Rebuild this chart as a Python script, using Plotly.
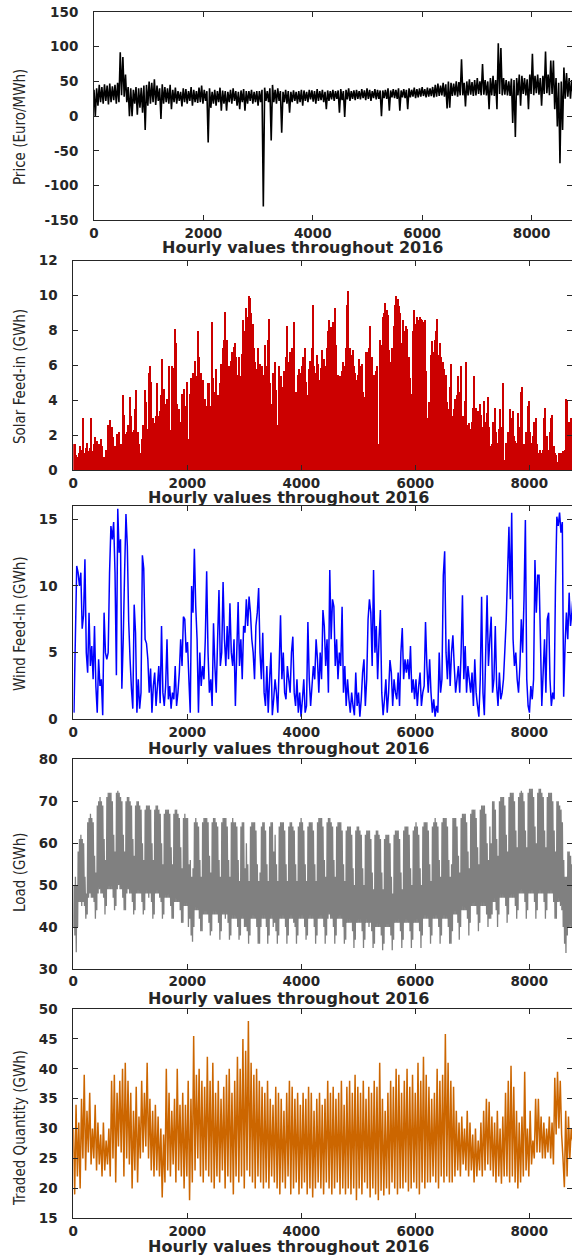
import plotly.graph_objects as go

# ---------------- data ----------------
N_HOURS = 8784
x_ticks = [0, 2000, 4000, 6000, 8000]

# Price: upper / lower values of the hourly band, one pair per 2 days
price_hi = [38, 40, 45, 42, 46, 44, 47, 43, 45, 48,
            92, 85, 60, 42, 40, 38, 42, 40, 41, 44,
            45, 50, 48, 53, 44, 40, 46, 42, 40, 45,
            38, 41, 36, 35, 40, 39, 36, 42, 38, 36,
            41, 44, 38, 36, 40, 35, 38, 36, 41, 37,
            36, 35, 38, 40, 36, 35, 37, 39, 36, 36,
            38, 35, 36, 36, 38, 41, 36, 40, 45, 38,
            40, 36, 35, 38, 36, 35, 37, 35, 36, 38,
            37, 35, 38, 37, 36, 39, 36, 38, 35, 37,
            36, 38, 36, 37, 39, 36, 38, 40, 36, 37,
            38, 36, 39, 37, 40, 38, 36, 39, 38, 37,
            37, 38, 40, 37, 39, 38, 40, 37, 39, 38,
            40, 38, 41, 39, 40, 42, 39, 41, 40, 42,
            45, 47, 44, 48, 46, 50, 48, 47, 50, 49,
            82, 48, 50, 53, 49, 52, 55, 50, 75, 52,
            50, 55, 58, 52, 105, 98, 55, 52, 50, 54,
            52, 55, 60, 58, 55, 53, 60, 90, 58, 60,
            55, 58, 93, 60, 80, 80, 55, 48, 50, 70,
            62, 55, 52]
price_lo = [0, 15, 20, 18, 22, 17, 20, 23, 18, 20,
            30, 28, 20, 0, 0, 18, 2, 12, 5, -20,
            15, 18, 20, 16, 22, -4, 18, 20, 18, 10,
            20, 18, 22, 14, 20, 18, 22, 15, 20, 19,
            20, 18, 22, -38, 12, 18, 15, 20, 8, 18,
            8, 20, 18, 22, 15, 10, 20, 8, 18, 22,
            18, 20, 15, 20, -130, 22, 20, -35, 20, 18,
            22, -24, 20, 18, 5, 20, 22, 18, 20, 15,
            22, 20, 24, 21, 18, 22, 23, 20, 10, 22,
            24, 22, 25, 5, 23, -1, 24, 22, 25, 23,
            25, 24, 26, 23, 25, 22, 26, 24, 25, 0,
            26, 25, 8, 27, 26, 25, 8, 27, 26, 10,
            27, 28, 26, 27, 28, 29, 27, 28, 29, 27,
            28, 29, 30, 28, 11, 12, 29, 30, 28, 30,
            30, 14, 30, 31, 29, 30, 32, 30, 31, 30,
            10, 30, 29, 10, 32, 30, 31, 30, 29, -10,
            -30, 30, 15, 32, 30, 10, 32, 30, 33, 31,
            15, 32, 33, 30, 32, 10, -15, -68, -20, 25,
            28, 25, 30]

# Solar: daily peak feed-in (GWh)
solar_peak = [1.5, 1.5, 0.9, 0.8, 1.0, 1.4, 1.2, 3.0, 1.0, 1.3,
              1.6, 1.1, 1.3, 3.0, 1.1, 1.5, 1.9, 1.7, 1.3, 1.5,
              1.8, 1.4, 0.8, 0.8, 1.2, 2.6, 1.8, 2.9, 2.5, 1.9,
              1.4, 1.0, 2.1, 2.2, 1.0, 1.5, 4.3, 3.2, 2.1, 2.2,
              2.6, 4.2, 3.1, 2.2, 2.3, 3.5, 4.6, 2.2, 1.5, 1.0,
              1.8, 2.6, 4.6, 3.9, 2.4, 5.6, 6.0, 5.1, 3.0, 2.7,
              3.1, 5.0, 3.1, 3.4, 4.3, 6.4, 4.7, 3.8, 4.1, 3.2,
              6.0, 2.3, 6.0, 5.9, 8.1, 7.3, 3.8, 3.5, 2.8, 4.4,
              4.2, 4.7, 3.7, 5.1, 1.8, 4.4, 5.3, 5.6, 3.5, 6.3,
              5.4, 8.0, 6.5, 5.6, 4.0, 5.2, 4.1, 3.7, 5.0, 5.0,
              3.7, 8.5, 5.3, 4.5, 5.8, 2.8, 4.3, 5.0, 6.1, 7.0,
              7.5, 9.1, 7.5, 5.6, 6.0, 6.3, 6.8, 7.1, 7.3, 6.5,
              5.5, 6.5, 5.4, 6.7, 8.6, 8.0, 9.3, 8.8, 10.0, 9.9,
              9.0, 8.4, 7.0, 6.2, 5.8, 7.0, 6.1, 5.4, 6.0, 5.5,
              7.2, 6.0, 7.5, 8.7, 5.0, 3.8, 5.6, 6.2, 4.6, 2.6,
              6.0, 5.2, 5.4, 4.8, 5.7, 6.5, 8.3, 6.2, 6.8, 6.0,
              7.0, 8.5, 4.0, 4.5, 5.5, 5.8, 5.6, 6.0, 6.5, 7.0,
              5.1, 4.3, 5.8, 6.3, 7.0, 9.5, 6.0, 5.6, 6.6, 6.1,
              5.2, 5.9, 6.9, 6.4, 6.0, 7.0, 8.0, 8.6, 8.2, 7.5,
              8.5, 9.3, 7.2, 5.5, 5.0, 5.4, 5.7, 6.2, 6.0, 7.0,
              9.5, 10.3, 7.0, 6.6, 6.9, 6.0, 5.6, 5.2, 5.5, 6.4,
              6.0, 6.1, 4.5, 4.2, 6.8, 6.8, 7.0, 8.3, 6.5, 4.7,
              5.5, 5.7, 6.0, 1.5, 7.5, 7.2, 8.8, 9.0, 9.6, 9.2,
              8.9, 6.9, 6.2, 7.0, 8.3, 9.5, 10.0, 9.8, 9.4, 9.0,
              7.3, 8.6, 8.0, 8.3, 8.1, 6.5, 5.3, 4.4, 8.0, 9.2,
              8.4, 8.8, 8.6, 8.8, 8.7, 8.6, 8.5, 8.6, 5.7, 3.0,
              3.9, 6.6, 7.4, 6.8, 7.5, 8.0, 8.7, 6.6, 7.3, 6.5,
              6.2, 5.8, 5.5, 3.9, 3.5, 4.8, 6.1, 3.1, 3.5, 4.1,
              4.3, 5.4, 4.5, 6.0, 2.9, 3.1, 4.0, 6.2, 2.6, 2.7,
              2.4, 2.8, 3.6, 5.4, 3.6, 2.6, 3.4, 3.8, 3.2, 2.5,
              4.0, 2.8, 3.3, 4.2, 2.5, 1.4, 1.5, 2.8, 3.6, 2.2,
              1.6, 2.4, 3.5, 2.5, 5.0, 0.6, 1.6, 1.5, 2.2, 3.5,
              3.0, 3.4, 2.0, 1.7, 1.6, 3.3, 2.5, 4.5, 4.8, 1.5,
              1.0, 2.2, 3.7, 4.0, 2.2, 1.6, 2.0, 2.8, 3.0, 1.5,
              1.0, 1.2, 1.0, 1.2, 3.0, 3.6, 2.0, 1.2, 2.2, 3.0,
              3.2, 1.4, 1.0, 0.9, 0.5, 1.0, 1.0, 1.0, 1.1, 1.2,
              4.1, 4.0, 2.8, 2.0, 3.0, 2.5]

# Wind: daily value (GWh)
wind = [0.5, 6, 11.5, 11, 10, 11, 6.8, 7.8, 12, 5,
        3.5, 8, 4, 5.5, 3, 7, 2.5, 0.5, 4.5, 2.5,
        3, 0.3, 8, 5, 4.5, 5, 11, 14.5, 13.5, 14.8,
        11, 3.3, 15.8, 12.5, 13.5, 2.3, 6, 11, 15.4, 13,
        7.3, 4.5, 2.3, 0.8, 8.6, 6.5, 0.5, 3, 0.8, 2,
        12.3, 11.3, 6, 5.7, 4.5, 2, 3.8, 0.5, 2.5, 3.5,
        1, 2.5, 4, 1.2, 7, 2, 1, 2.5, 6, 1.5,
        2.5, 0.8, 2, 1.5, 4, 1, 2, 3.5, 6, 4,
        7.7, 7.5, 5, 5.8, 3, 0.5, 10, 8, 12.8, 8.5,
        6, 0.5, 5, 2.5, 4, 3, 6, 11.1, 5, 2,
        3, 1, 7.2, 4, 2, 6, 9.7, 4, 5, 10.3,
        6, 4, 7, 4.5, 8.7, 5, 4, 6, 1, 5,
        8.8, 4, 6, 3, 7, 6.5, 9, 7, 9.2, 8,
        6, 5, 3, 7, 8, 9.85, 5, 3, 6.5, 2,
        1, 4, 0.5, 3, 5, 0.3, 1.5, 3, 2, 0.5,
        4, 7.8, 3, 5, 2, 1.5, 4, 3, 2, 5,
        6.2, 2, 1, 3, 0.5, 2, 0.2, 1.5, 3, 0.5,
        1, 7.3, 3, 1, 2.5, 4, 3, 6, 4.5, 2,
        5, 3, 8.2, 7, 4, 6, 2, 11.2, 6, 9,
        8.45, 4, 6, 3, 5, 4, 8.45, 2, 4, 1,
        3, 1.5, 0.5, 2, 1, 0.3, 3.5, 1, 2, 0.2,
        1.5, 3.5, 4.5, 1, 3, 7.5, 9, 8, 4, 11.2,
        5, 7, 3, 6, 8.2, 2, 0.3, 1.5, 3, 0.5,
        2, 4.45, 3.5, 1, 3, 2, 1.5, 3.5, 1, 5,
        6.85, 3, 4.5, 3.5, 4.5, 3, 5.5, 2, 3, 1.5,
        3, 1, 2.5, 3.5, 1, 2, 2.5, 7.3, 4, 2,
        4.5, 2, 0.5, 1.5, 0.2, 1, 0.5, 5, 2, 3,
        10.8, 12.6, 5, 3, 6, 2.5, 5, 6.3, 4, 2,
        3, 4, 2, 5, 9.3, 3, 5.5, 2, 4, 3,
        2, 3.5, 1, 4.5, 2, 1, 0.2, 3, 9.2, 2,
        0.3, 5, 9.3, 4, 6, 7.7, 2, 3, 7, 2.5,
        1, 3.5, 1.5, 2, 3, 5.2, 7.5, 11.1, 14.45, 9,
        15.5, 6, 4, 5, 3, 2, 4, 7.5, 5, 9,
        14.95, 3, 1, 0.5, 2.5, 1.5, 3, 11.95, 8, 10.8,
        10.8, 6, 1, 3.5, 6, 2, 7.5, 8, 3, 1,
        2, 1.5, 9.95, 15.2, 14.5, 15.5, 14, 14.8, 1.7, 5.5,
        8, 6, 9.5, 7, 8, 9.5]

# Load: daily peak and night trough (GWh); rows are weeks Mon..Sun
load_peak = [50, 52, 50,
             58, 61, 62, 61, 60, 52, 48,
             65, 66, 67, 66, 65, 57, 53,
             69, 70, 71, 70, 69, 61, 56,
             71, 72, 72, 72, 70, 62, 58,
             72, 72.5, 72, 71, 70, 62, 58,
             70, 71, 71, 70, 69, 61, 57,
             69, 70, 70, 69, 68, 60, 56,
             68, 69, 69, 69, 68, 60, 56,
             68, 69, 69, 68, 67, 60, 55,
             67, 68, 68, 68, 67, 59, 55,
             67, 68, 68, 67, 66, 59, 54,
             66, 67, 66, 66, 55, 56, 52,
             54, 65, 66, 65, 64, 56, 52,
             65, 66, 66, 66, 65, 57, 53,
             65, 66, 66, 65, 64, 56, 52,
             65, 66, 66, 66, 64, 56, 52,
             65, 66, 65, 65, 64, 56, 51,
             64, 65, 65, 54, 60, 55, 51,
             64, 65, 65, 65, 63, 55, 51,
             53, 64, 65, 65, 63, 55, 51,
             64, 65, 65, 58, 62, 55, 51,
             64, 65, 65, 65, 63, 55, 51,
             64, 65, 65, 64, 63, 55, 51,
             64, 65, 66, 65, 63, 55, 51,
             64, 65, 65, 65, 63, 55, 51,
             65, 66, 66, 66, 64, 56, 52,
             65, 66, 66, 65, 64, 56, 52,
             64, 65, 65, 65, 63, 55, 51,
             63, 64, 64, 64, 62, 54, 50,
             63, 64, 64, 63, 62, 54, 50,
             62, 63, 63, 63, 61, 53, 49,
             62, 63, 63, 62, 61, 53, 49,
             61, 62, 62, 62, 60, 52, 48,
             62, 63, 63, 63, 61, 53, 49,
             63, 64, 64, 64, 62, 54, 50,
             63, 64, 65, 64, 62, 54, 50,
             64, 65, 65, 65, 63, 55, 51,
             64, 65, 66, 65, 64, 56, 52,
             65, 66, 66, 66, 64, 56, 52,
             55, 66, 66, 66, 64, 57, 53,
             66, 67, 67, 67, 65, 58, 54,
             67, 68, 68, 68, 66, 59, 55,
             68, 69, 69, 69, 67, 60, 56,
             64, 60, 70, 70, 68, 61, 57,
             70, 71, 71, 71, 69, 62, 58,
             71, 72, 72, 72, 70, 63, 59,
             71, 72, 72.5, 72, 70, 63, 59,
             72, 73, 73, 73, 71, 64, 60,
             72, 73, 73, 72, 71, 63, 59,
             71, 72, 72, 72, 70, 63, 58,
             70, 70, 69, 68, 65, 56, 52,
             52, 58, 58, 57, 55, 50]
load_trough = [40, 38, 34,
               40, 46, 46, 45, 46, 45, 42,
               43, 47, 48, 47, 47, 46, 42,
               44, 48, 49, 48, 48, 47, 43,
               45, 49, 49, 49, 49, 47, 44,
               45, 49, 50, 49, 49, 47, 44,
               44, 48, 49, 48, 48, 46, 43,
               44, 48, 48, 48, 48, 46, 43,
               44, 48, 48, 47, 48, 46, 42,
               43, 48, 48, 48, 47, 46, 42,
               43, 47, 47, 47, 47, 45, 42,
               42, 46, 46, 46, 46, 44, 41,
               41, 45, 45, 45, 40, 42, 38,
               36.5, 40, 44, 44, 44, 42, 39,
               39, 43, 43, 43, 43, 41, 38,
               39, 43, 43, 43, 43, 41, 37,
               39, 43, 43, 42, 43, 41, 37,
               38, 42, 42, 42, 42, 40, 37,
               38, 42, 42, 40, 40, 39, 36,
               38, 42, 42, 42, 42, 40, 36,
               36, 40, 42, 42, 42, 40, 36,
               38, 42, 42, 40, 41, 39, 36,
               38, 42, 42, 42, 42, 40, 36,
               38, 42, 42, 42, 41, 40, 36,
               38, 42, 42, 42, 42, 40, 37,
               38, 42, 42, 42, 42, 40, 36,
               38, 42, 42, 42, 42, 40, 36,
               38, 42, 43, 42, 42, 40, 36,
               38, 42, 42, 42, 42, 40, 36,
               37, 41, 41, 41, 41, 39, 35,
               37, 41, 41, 41, 41, 39, 35,
               37, 41, 41, 40, 41, 39, 35,
               36, 40, 40, 40, 40, 38, 34.5,
               36, 40, 40, 40, 40, 38, 34.5,
               37, 41, 41, 41, 41, 39, 35,
               37, 41, 41, 41, 41, 39, 35,
               37, 41, 41, 41, 41, 39, 35,
               38, 42, 42, 42, 42, 40, 36,
               38, 42, 42, 42, 42, 40, 36,
               38, 42, 42, 42, 42, 40, 36,
               36, 39, 43, 43, 43, 41, 37,
               40, 44, 44, 44, 44, 42, 38,
               41, 45, 45, 45, 45, 43, 39,
               41, 45, 45, 45, 45, 43, 40,
               42, 42, 43, 46, 46, 44, 40,
               43, 47, 47, 47, 47, 45, 41,
               43, 47, 47, 47, 47, 45, 42,
               44, 48, 48, 48, 48, 46, 42,
               44, 48, 48, 48, 48, 46, 42,
               44, 48, 48, 48, 48, 46, 42,
               44, 48, 48, 48, 48, 46, 42,
               42, 46, 46, 45, 44, 40, 36,
               33.8, 38, 40, 40, 40, 38]

# Traded quantity: upper / lower values of the band, one pair per 2 days
traded_hi = [30, 34, 31, 35, 39, 33, 36, 30, 34, 31,
             29, 31, 28, 30, 38, 39, 36, 38, 40, 41,
             38, 36, 33, 37, 32, 38, 36, 41, 35, 33,
             34, 32, 30, 29, 40, 36, 33, 35, 40, 34,
             36, 34, 38, 35, 45.5, 39, 40, 38, 37, 42,
             38, 41, 36, 38, 35, 37, 39, 40, 36, 38,
             42, 40, 45, 43, 48, 41, 39, 40, 38, 37,
             36, 38, 35, 34, 37, 36, 35, 33, 36, 38,
             37, 35, 36, 34, 36, 35, 37, 36, 33, 35,
             36, 34, 35, 38, 36, 37, 35, 36, 38, 34,
             37, 38, 36, 39, 37, 36, 38, 35, 37, 36,
             38, 37, 41, 35, 33, 36, 38, 37, 40, 39,
             36, 38, 40, 37, 39, 36, 41, 38, 42, 39,
             37, 35, 36, 40, 38, 39, 45.8, 41, 38, 37,
             33, 31, 32, 30, 33, 31, 29, 30, 28, 31,
             33, 35, 34.5, 32, 31, 33, 30, 32, 36, 38,
             40.5, 37, 33, 31, 32, 39.5, 30, 33, 28, 35,
             35, 32, 31, 30, 32, 31, 38.5, 39.5, 38, 25,
             33, 32, 30]
traded_lo = [19, 22, 20, 25, 23, 26, 24, 25, 23, 24,
             22, 23, 24, 22, 25, 21, 27, 26, 22, 25,
             24, 20, 23, 21, 25, 26, 27, 25, 23, 22,
             23, 22, 18.5, 21, 23, 22, 24, 21, 23, 22,
             20, 22, 18, 21, 23, 25, 22, 21, 23, 22,
             21, 20, 22, 21, 23, 20, 22, 21, 19, 22,
             21, 22, 20, 23, 22, 21, 20, 22, 21, 20,
             21, 20, 22, 21, 20, 19, 21, 20, 22, 19,
             20, 21, 19, 20, 21, 19, 20, 18.5, 20, 21,
             20, 19, 21, 20, 19, 20, 21, 19, 20, 19,
             20, 19, 20, 18, 20, 19, 21, 20, 18.5, 20,
             19, 18, 19.6, 18.8, 20, 19, 21, 20, 19, 20,
             20, 21, 19.5, 20, 21, 20, 19, 21, 20, 21,
             21, 22, 21, 20, 22, 21, 22, 21, 21, 22,
             23, 22, 24, 23, 22, 23, 21, 22, 23, 22,
             23, 24, 23, 22, 21, 22, 20.8, 22, 22, 21,
             22, 21, 20, 21, 22, 23, 22, 24, 25, 26,
             26, 25, 25, 26, 25, 24, 29, 30, 29, 20.2,
             22, 25, 28]

# ---------------- build plotted sequences ----------------
def band(hi, lo, step):
    xs, ys = [], []
    for i, (h, l) in enumerate(zip(hi, lo)):
        xs += [i * step, i * step + step / 2]
        ys += [h, l]
    return xs, ys

price_x, price_y = band(price_hi, price_lo, 48)
traded_x, traded_y = band(traded_hi, traded_lo, 48)
load_x, load_y = [], []
for d, (lo, hi) in enumerate(zip(load_trough, load_peak)):
    load_x += [24 * d + 4, 24 * d + 13]
    load_y += [lo, hi]
day_mid = [24 * d + 12 for d in range(len(wind))]

# ---------------- layout geometry (pixels) ----------------
W, H = 572, 1256
panels = [
    dict(left=94, top=12, bottom=220.3, xmax=8740, yr=[-150, 150],
         yt=[-150, -100, -50, 0, 50, 100, 150],
         ytitle="Price (Euro/MWh)", ty=127, xt_y=248, xt_x=302),
    dict(left=73.3, top=260.7, bottom=470.3, xmax=8750, yr=[0, 12], yt=[0, 2, 4, 6, 8, 10, 12],
         ytitle="Solar Feed-in (GWh)", ty=377, xt_y=498, xt_x=288.5),
    dict(left=73.3, top=506, bottom=719.3, xmax=8750, yr=[0, 16], yt=[0, 5, 10, 15],
         ytitle="Wind Feed-in (GWh)", ty=624, xt_y=748, xt_x=288.5),
    dict(left=73.3, top=759.3, bottom=969, xmax=8750, yr=[30, 80], yt=[30, 40, 50, 60, 70, 80],
         ytitle="Load (GWh)", ty=872, xt_y=998, xt_x=288.5),
    dict(left=73.3, top=1009, bottom=1218.3, xmax=8750, yr=[15, 50],
         yt=[15, 20, 25, 30, 35, 40, 45, 50],
         ytitle="Traded Quantity (GWh)", ty=1128, xt_y=1246, xt_x=288.5),
]

fig = go.Figure()
common = dict(mode="lines", showlegend=False, hoverinfo="skip")
fig.add_trace(go.Scatter(x=price_x, y=price_y, line=dict(color="black", width=1.6, simplify=False),
                         xaxis="x", yaxis="y", **common))
fig.add_trace(go.Bar(x=day_mid, y=solar_peak, width=24, marker=dict(color="#CC0000", line=dict(width=0)),
                     xaxis="x2", yaxis="y2", showlegend=False, hoverinfo="skip"))
fig.add_trace(go.Scatter(x=day_mid, y=wind, line=dict(color="#0000FF", width=1.5, simplify=False),
                         xaxis="x3", yaxis="y3", **common))
fig.add_trace(go.Scatter(x=load_x, y=load_y, line=dict(color="#808080", width=1.3, simplify=False),
                         xaxis="x4", yaxis="y4", **common))
fig.add_trace(go.Scatter(x=traded_x, y=traded_y, line=dict(color="#CC6600", width=1.5, simplify=False),
                         xaxis="x5", yaxis="y5", **common))

axis_col = "#262626"
tickfont = dict(family="DejaVu Sans, Liberation Sans, sans-serif", size=13.5, color=axis_col)
ax_common = dict(showgrid=False, zeroline=False, showline=True, linecolor=axis_col, linewidth=1,
                 mirror="ticks", ticks="inside", ticklen=5, tickwidth=1, tickcolor=axis_col,
                 tickfont=tickfont, automargin=False)
layout = dict(width=W, height=H, margin=dict(l=0, r=0, t=0, b=0, autoexpand=False),
              paper_bgcolor="white", plot_bgcolor="white", bargap=0, annotations=[])
for k, p in enumerate(panels, start=1):
    sfx = "" if k == 1 else str(k)
    layout["xaxis" + sfx] = dict(domain=[p["left"] / W, 1.0], range=[0, p["xmax"]],
                                 tickvals=x_ticks, ticktext=["<b>%d</b>" % v for v in x_ticks],
                                 anchor="y" + sfx, ticklabelstandoff=0, **ax_common)
    layout["yaxis" + sfx] = dict(domain=[1 - p["bottom"] / H, 1 - p["top"] / H], range=p["yr"],
                                 tickvals=p["yt"], ticktext=["<b>%d</b>" % v for v in p["yt"]],
                                 anchor="x" + sfx, ticklabelstandoff=12, **ax_common)
    layout["annotations"].append(dict(
        text=p["ytitle"], textangle=-90, x=20 / W, y=1 - p["ty"] / H, xref="paper", yref="paper",
        xanchor="center", yanchor="middle", showarrow=False,
        font=dict(family="Liberation Sans Narrow, DejaVu Sans Condensed, Liberation Sans, sans-serif",
                  size=15, color=axis_col)))
    layout["annotations"].append(dict(
        text="<b>Hourly values throughout 2016</b>", x=p["xt_x"] / W, y=1 - p["xt_y"] / H,
        xref="paper", yref="paper", xanchor="center", yanchor="middle", showarrow=False,
        font=dict(family="DejaVu Sans, Liberation Sans, sans-serif", size=16, color=axis_col)))

fig.update_layout(**layout)
fig.write_html("out.html", post_script="document.body.style.margin='0';")
